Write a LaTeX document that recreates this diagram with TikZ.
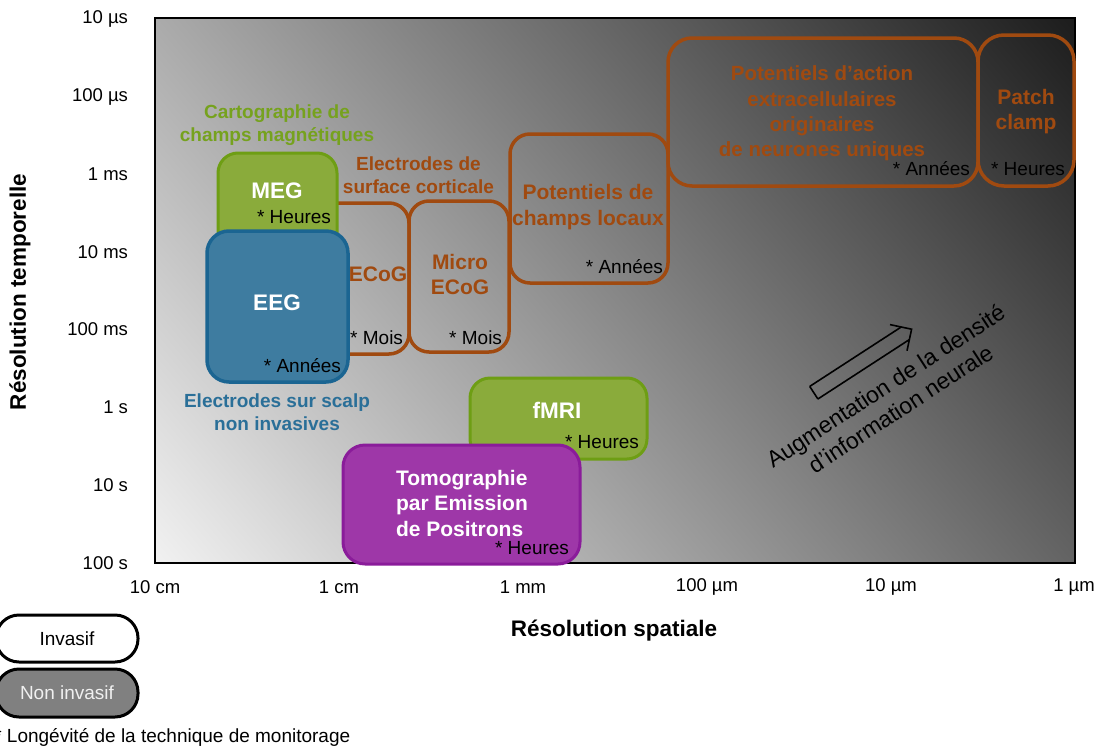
\documentclass[tikz,border=0pt]{standalone}
\usepackage{fontspec}
\setmainfont{Liberation Sans}
\definecolor{orng}{HTML}{A04A10}
\definecolor{grnF}{HTML}{8AAB3B}
\definecolor{grnB}{HTML}{6E9E14}
\definecolor{grnT}{HTML}{76A21E}
\definecolor{bluF}{HTML}{3E7CA0}
\definecolor{bluB}{HTML}{1B6592}
\definecolor{bluT}{HTML}{2A6F98}
\definecolor{purF}{HTML}{9E37A8}
\definecolor{purB}{HTML}{8A1C9A}
\definecolor{bgL}{HTML}{F2F2F2}
\definecolor{bgD}{HTML}{1C1C1C}
\definecolor{legG}{HTML}{808080}
\begin{document}
\begin{tikzpicture}[x=1pt,y=-1pt,
  every node/.style={inner sep=0pt,outer sep=0pt},
  ticklbl/.style={font=\fontsize{18.5}{22}\selectfont},
  note/.style={font=\fontsize{19}{23}\selectfont,anchor=east},
  captxt/.style={font=\fontsize{19}{23}\selectfont\bfseries,align=center},
  otxt/.style={font=\fontsize{21}{25}\selectfont\bfseries,align=center,text=orng},
  wtitle/.style={font=\fontsize{22.5}{26}\selectfont\bfseries,text=white},
  obox/.style={draw=orng,line width=3.5pt,rounded corners=20pt},
  gbox/.style={draw=grnB,fill=grnF,line width=3pt,rounded corners=20pt},
  pill/.style={draw=black,line width=3pt,rounded corners=23pt,minimum width=142,minimum height=47,font=\fontsize{19}{23}\selectfont}
]
\useasboundingbox (0,0) rectangle (1098,747);

% background gradient
\begin{scope}
  \clip (155,18) rectangle (1075,563);
  \begin{scope}[transform canvas={rotate around={40:(615,290.5)}}]
    \shade[left color=bgL,right color=bgD] (85,-219.5) rectangle (1145,800.5);
  \end{scope}
\end{scope}
\node[draw=black,line width=2pt,minimum width=920,minimum height=545] (frame) at (615,290.5) {};

% axis labels
\foreach \t/\yy [count=\i] in {10 µs/18.5,100 µs/97,1 ms/174.5,10 ms/252,100 ms/329.5,1 s/407.5,10 s/485.5,100 s/563}
  \node[ticklbl,anchor=east] (yt\i) at (128,\yy) {\t};
\foreach \t/\xx [count=\i] in {10 cm/155,1 cm/339,1 mm/523,100 µm/707,10 µm/891,1 µm/1074}
  \node[ticklbl] (xt\i) at (\xx,587) {\t};
\node[font=\fontsize{22.5}{26}\selectfont\bfseries] (xtitle) at (614,631) {Résolution spatiale};
\node[font=\fontsize{22.5}{26}\selectfont\bfseries,rotate=90] (ytitle) at (20,292) {Résolution temporelle};

% invasive (orange) boxes
\node[obox,minimum width=119,minimum height=151] (ecog) at (349.5,278.5) {};
\node[obox,minimum width=100,minimum height=151] (micro) at (459,276.5) {};
\node[obox,minimum width=158,minimum height=149] (lfp) at (589,208.5) {};
\node[obox,minimum width=310,minimum height=148,rounded corners=24pt] (pa) at (823,112) {};
\node[obox,minimum width=96,minimum height=151,rounded corners=26pt] (patch) at (1026,110.5) {};

% non invasive boxes
\node[gbox,minimum width=119,minimum height=107] (meg) at (277.5,206.5) {};
\node[draw=bluB,fill=bluF,line width=3.5pt,rounded corners=22pt,minimum width=141,minimum height=151] (eeg) at (277.5,306.5) {};
\node[gbox,minimum width=177,minimum height=81] (fmri) at (558.5,418.5) {};
\node[draw=purB,fill=purF,line width=3pt,rounded corners=22pt,minimum width=237,minimum height=119] (pet) at (461.5,504.5) {};

% texts in boxes
\node[wtitle] (megT) at (277,191) {MEG};
\node[note] (megN) at (331,217) {* Heures};
\node[wtitle] (eegT) at (277,303) {EEG};
\node[note] (eegN) at (341,366) {* Années};
\node[otxt] (ecogT) at (378,274) {ECoG};
\node[note] (ecogN) at (403,338) {* Mois};
\node[otxt] (microT) at (460,274) {Micro\\ECoG};
\node[note] (microN) at (502,338) {* Mois};
\node[otxt,font=\fontsize{21}{26}\selectfont\bfseries] (lfpT) at (588,207.5) {Potentiels de\\champs locaux};
\node[note] (lfpN) at (663,267) {* Années};
\node[otxt,font=\fontsize{20.5}{25.3}\selectfont\bfseries] (paT) at (822,113.5) {Potentiels d’action\\extracellulaires\\originaires\\de neurones uniques};
\node[note] (paN) at (970,169) {* Années};
\node[otxt] (patchT) at (1026,112) {Patch\\clamp};
\node[note] (patchN) at (1065,169) {* Heures};
\node[wtitle] (fmriT) at (557,410) {fMRI};
\node[note] (fmriN) at (639,442) {* Heures};
\node[font=\fontsize{21}{25.5}\selectfont\bfseries,text=white,align=left,anchor=west] (petT) at (396,503) {Tomographie\\par Emission\\de Positrons};
\node[note] (petN) at (569,548) {* Heures};

% outer captions
\node[captxt,text=grnT] (carto) at (277,125) {Cartographie de\\champs magnétiques};
\node[captxt,text=orng] (surf) at (418.5,175.5) {Electrodes de\\surface corticale};
\node[captxt,text=bluT] (scalp) at (277,412.5) {Electrodes sur scalp\\non invasives};

% arrow
\begin{scope}[shift={(813.8,392.7)},rotate=33,line width=1.6pt]
  \draw (0,-7.5) -- (0,7.5);
  \draw (0,-7.5) -- (109.1,-7.5);
  \draw (0,7.5) -- (109.1,7.5);
  \draw (101,-15.6) -- (116.6,0) -- (101,15.6);
\end{scope}
\node[font=\fontsize{23}{27.5}\selectfont,align=center,rotate=33] (aug) at (893,397) {Augmentation de la densité\\d’information neurale};

% legend
\node[pill,fill=white] (inv) at (67,638.5) {Invasif};
\node[pill,fill=legG,text=white!94!black,minimum height=48] (ninv) at (67,693) {Non invasif};
\node[font=\fontsize{19}{23}\selectfont,anchor=west] (longev) at (-5.7,737) {* Longévité de la technique de monitorage};
\end{tikzpicture}
\end{document}
